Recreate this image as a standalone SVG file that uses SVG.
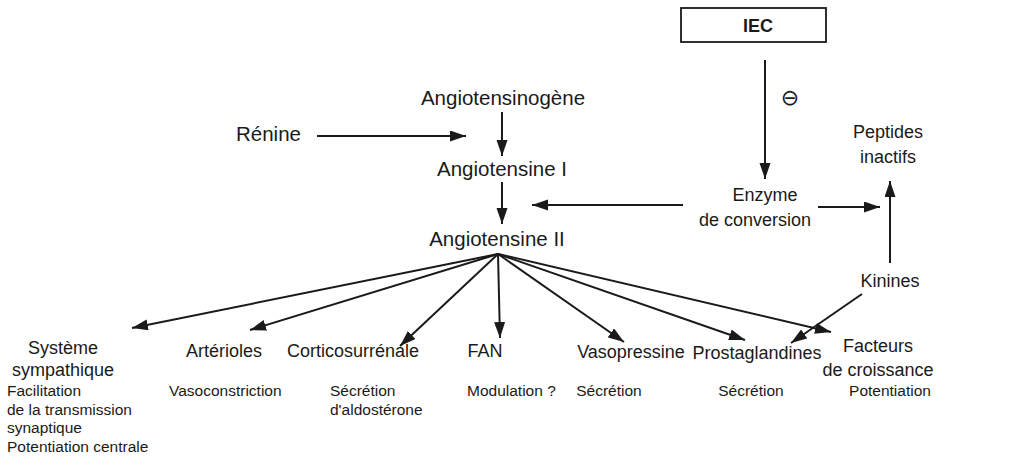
<svg xmlns="http://www.w3.org/2000/svg" width="1035" height="466" viewBox="0 0 1035 466">
<style>
.t{font-family:"Liberation Sans",Arial,sans-serif;font-size:18px;fill:#1a1a1a}
.u{font-family:"Liberation Sans",Arial,sans-serif;font-size:20.5px;fill:#1a1a1a}
.s{font-family:"Liberation Sans",Arial,sans-serif;font-size:15.5px;fill:#1a1a1a}
.c{stroke:#1a1a1a;stroke-width:2;fill:none}
</style>
<defs>
<marker id="ah" markerUnits="userSpaceOnUse" markerWidth="17" markerHeight="12" refX="16" refY="5.5" orient="auto">
<path d="M0,0 L16,5.5 L0,11 Z" fill="#1a1a1a"/>
</marker>
</defs>
<rect width="1035" height="466" fill="#fff"/>
<g id="iec">
<rect x="681" y="8" width="145" height="34" fill="#fff" stroke="#1a1a1a" stroke-width="1.8"/>
<text x="758" y="32" class="t" text-anchor="middle" font-weight="bold" font-size="17">IEC</text>
</g>
<g id="inhib"><text x="790" y="105" font-family="DejaVu Sans,sans-serif" font-size="22" text-anchor="middle" fill="#1a1a1a">⊖</text></g>
<g id="angiotensinogene"><text x="503" y="105" class="u" text-anchor="middle">Angiotensinogène</text></g>
<g id="renine"><text x="236" y="141" class="u">Rénine</text></g>
<g id="angiotensine1"><text x="502" y="176" class="u" text-anchor="middle">Angiotensine I</text></g>
<g id="angiotensine2"><text x="497" y="246" class="u" text-anchor="middle">Angiotensine II</text></g>
<g id="enzyme"><text x="765" y="201" class="t" text-anchor="middle">Enzyme</text><text x="755" y="226" class="t" text-anchor="middle">de conversion</text></g>
<g id="peptides"><text x="888" y="138" class="t" text-anchor="middle">Peptides</text><text x="888" y="163" class="t" text-anchor="middle">inactifs</text></g>
<g id="kinines"><text x="890" y="287" class="t" text-anchor="middle">Kinines</text></g>
<g id="systeme"><text x="63" y="354" class="t" text-anchor="middle">Système</text><text x="63" y="376" class="t" text-anchor="middle">sympathique</text>
<text x="7" y="396" class="s">Facilitation</text><text x="7" y="415" class="s">de la transmission</text><text x="7" y="433" class="s">synaptique</text><text x="7" y="452" class="s">Potentiation centrale</text></g>
<g id="arterioles"><text x="224" y="357" class="t" text-anchor="middle">Artérioles</text><text x="169" y="396" class="s">Vasoconstriction</text></g>
<g id="cortico"><text x="353" y="357" class="t" text-anchor="middle">Corticosurrénale</text><text x="330" y="396" class="s">Sécrétion</text><text x="330" y="415" class="s">d'aldostérone</text></g>
<g id="fan"><text x="485" y="357" class="t" text-anchor="middle">FAN</text><text x="467" y="396" class="s">Modulation ?</text></g>
<g id="vasopressine"><text x="631" y="358" class="t" text-anchor="middle">Vasopressine</text><text x="609" y="396" class="s" text-anchor="middle">Sécrétion</text></g>
<g id="prostaglandines"><text x="757" y="359" class="t" text-anchor="middle">Prostaglandines</text><text x="751" y="396" class="s" text-anchor="middle">Sécrétion</text></g>
<g id="facteurs"><text x="878" y="352" class="t" text-anchor="middle">Facteurs</text><text x="878" y="376" class="t" text-anchor="middle">de croissance</text><text x="890" y="396" class="s" text-anchor="middle">Potentiation</text></g>
<g id="connectors">
<line x1="765" y1="60" x2="765" y2="179" class="c" marker-end="url(#ah)"/>
<line x1="317" y1="136" x2="466" y2="136" class="c" marker-end="url(#ah)"/>
<line x1="502" y1="112" x2="502" y2="156" class="c" marker-end="url(#ah)"/>
<line x1="502" y1="182" x2="502" y2="224" class="c" marker-end="url(#ah)"/>
<line x1="683" y1="205" x2="532" y2="205" class="c" marker-end="url(#ah)"/>
<line x1="818" y1="207" x2="880" y2="207" class="c" marker-end="url(#ah)"/>
<line x1="890" y1="263" x2="890" y2="181" class="c" marker-end="url(#ah)"/>
<line x1="862" y1="294" x2="791" y2="343" class="c" marker-end="url(#ah)"/>
<line x1="498" y1="254" x2="132" y2="328" class="c" marker-end="url(#ah)"/>
<line x1="498" y1="254" x2="250" y2="330" class="c" marker-end="url(#ah)"/>
<line x1="498" y1="254" x2="400" y2="346" class="c" marker-end="url(#ah)"/>
<line x1="498" y1="254" x2="500" y2="338" class="c" marker-end="url(#ah)"/>
<line x1="498" y1="254" x2="624" y2="342" class="c" marker-end="url(#ah)"/>
<line x1="498" y1="254" x2="745" y2="340" class="c" marker-end="url(#ah)"/>
<line x1="498" y1="254" x2="831" y2="332" class="c" marker-end="url(#ah)"/>
</g>
</svg>
